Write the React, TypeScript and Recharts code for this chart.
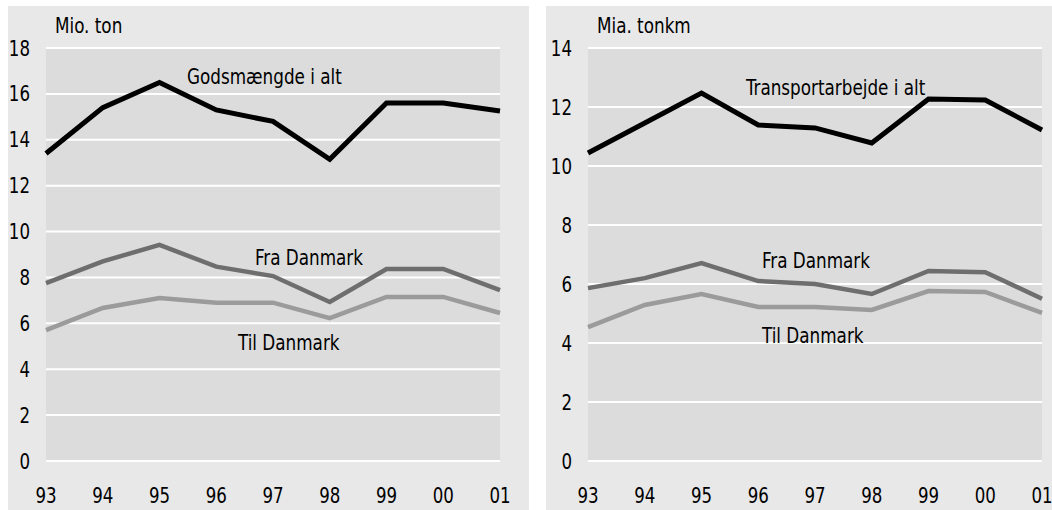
import React from 'react';
import { LineChart, Line, XAxis, YAxis, CartesianGrid } from 'recharts';

const years = ['93', '94', '95', '96', '97', '98', '99', '00', '01'];

// Mio. ton
const godsIAlt = [13.4, 15.4, 16.5, 15.3, 14.8, 13.15, 15.6, 15.6, 15.25];
const godsFra = [7.75, 8.7, 9.42, 8.47, 8.06, 6.93, 8.37, 8.37, 7.45];
const godsTil = [5.7, 6.67, 7.1, 6.9, 6.9, 6.23, 7.15, 7.15, 6.45];

// Mia. tonkm
const transIAlt = [10.44, 11.46, 12.47, 11.39, 11.29, 10.78, 12.27, 12.24, 11.22];
const transFra = [5.86, 6.2, 6.71, 6.1, 6.0, 5.66, 6.44, 6.4, 5.5];
const transTil = [4.54, 5.29, 5.66, 5.22, 5.22, 5.12, 5.76, 5.73, 5.02];

const leftTicks = [0, 2, 4, 6, 8, 10, 12, 14, 16, 18];
const rightTicks = [0, 2, 4, 6, 8, 10, 12, 14];

const FONT = '"DejaVu Sans Condensed", "Liberation Sans Narrow", "Roboto", sans-serif';
const FS = 21;
const TICK_SX = 0.88;
const TEXT_SX = 0.89;

const leftData = years.map((y, i) => ({ year: y, total: godsIAlt[i], fra: godsFra[i], til: godsTil[i] }));
const rightData = years.map((y, i) => ({ year: y, total: transIAlt[i], fra: transFra[i], til: transTil[i] }));

// x = left edge, y = baseline (page pixels)
type Note = { text: string; x: number; y: number };

const YTick = (props: any) => {
  const { x, y, payload } = props;
  return (
    <text
      transform={`translate(${x},${y}) scale(${TICK_SX},1)`}
      textAnchor="end"
      dy="0.36em"
      fill="#000"
      fontSize={FS}
      fontFamily={FONT}
      style={{ fontStretch: 'condensed' }}
    >
      {payload.value}
    </text>
  );
};

const XTick = (props: any) => {
  const { x, y, payload } = props;
  return (
    <text
      transform={`translate(${x},${y + 42}) scale(${TICK_SX},1)`}
      textAnchor="middle"
      fill="#000"
      fontSize={FS}
      fontFamily={FONT}
      style={{ fontStretch: 'condensed' }}
    >
      {payload.value}
    </text>
  );
};

interface PanelProps {
  data: Array<{ year: string; total: number; fra: number; til: number }>;
  ticks: number[];
  left: number;
  width: number;
  yAxisWidth: number;
  rightMargin: number;
  notes: Note[];
}

const Panel: React.FC<PanelProps> = ({ data, ticks, left, width, yAxisWidth, rightMargin, notes }) => {
  return (
    <div style={{ position: 'absolute', left, top: 6, width, height: 504, background: '#e8e8e8' }}>
      <LineChart width={width} height={504} data={data} margin={{ top: 42, right: rightMargin, bottom: 0, left: 0 }}>
        <CartesianGrid vertical={false} horizontal stroke="#ffffff" strokeWidth={2} fill="#dcdcdc" />
        <XAxis
          dataKey="year"
          height={49}
          axisLine={false}
          tickLine={false}
          tickSize={0}
          tickMargin={0}
          interval={0}
          tick={<XTick />}
        />
        <YAxis
          width={yAxisWidth}
          domain={[0, ticks[ticks.length - 1]]}
          ticks={ticks}
          axisLine={false}
          tickLine={false}
          tickSize={0}
          tickMargin={16}
          interval={0}
          tick={<YTick />}
        />
        <Line dataKey="til" stroke="#9b9b9b" strokeWidth={4.5} dot={false} isAnimationActive={false} />
        <Line dataKey="fra" stroke="#6e6e6e" strokeWidth={4.5} dot={false} isAnimationActive={false} />
        <Line dataKey="total" stroke="#000000" strokeWidth={5} dot={false} isAnimationActive={false} />
      </LineChart>
      <svg width={width} height={504} style={{ position: 'absolute', left: 0, top: 0, pointerEvents: 'none' }}>
        {notes.map((n) => (
          <text
            key={n.text}
            transform={`translate(${n.x - left},${n.y - 6}) scale(${TEXT_SX},1)`}
            fill="#000"
            fontSize={FS}
            fontFamily={FONT}
            style={{ fontStretch: 'condensed' }}
          >
            {n.text}
          </text>
        ))}
      </svg>
    </div>
  );
};

export default function App() {
  return (
    <div style={{ position: 'absolute', left: 0, top: 0, width: 1052, height: 510, background: '#ffffff', overflow: 'hidden' }}>
      <Panel
        data={leftData}
        ticks={leftTicks}
        left={8}
        width={521}
        yAxisWidth={38}
        rightMargin={29}
        notes={[
          { text: 'Mio. ton', x: 55, y: 33 },
          { text: 'Godsmængde i alt', x: 187, y: 84 },
          { text: 'Fra Danmark', x: 255, y: 265 },
          { text: 'Til Danmark', x: 238, y: 350 },
        ]}
      />
      <Panel
        data={rightData}
        ticks={rightTicks}
        left={546}
        width={520}
        yAxisWidth={42}
        rightMargin={24}
        notes={[
          { text: 'Mia. tonkm', x: 597, y: 33 },
          { text: 'Transportarbejde i alt', x: 746, y: 95 },
          { text: 'Fra Danmark', x: 762, y: 268 },
          { text: 'Til Danmark', x: 762, y: 343 },
        ]}
      />
    </div>
  );
}
